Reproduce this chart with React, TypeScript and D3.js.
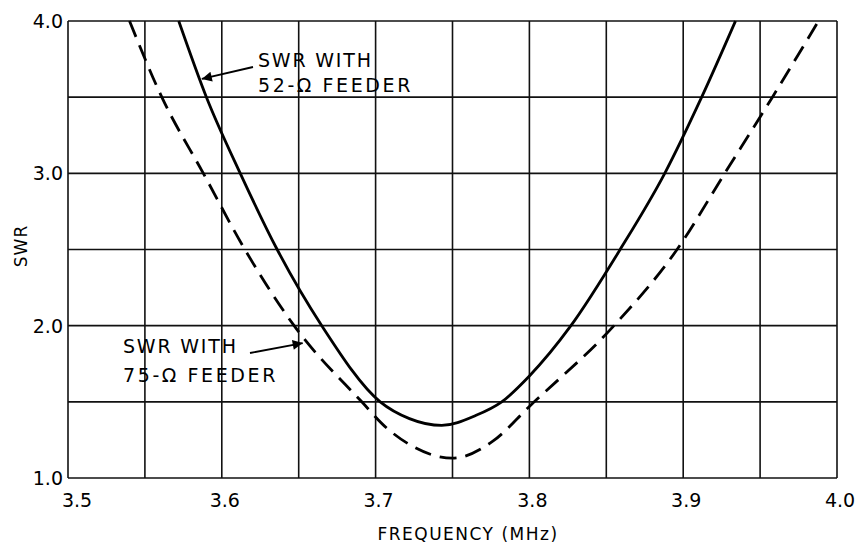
import React, { useEffect, useRef } from 'react';
import * as d3 from 'd3';

// SWR vs frequency
const freq52 = [3.572, 3.59, 3.612, 3.636, 3.665, 3.703, 3.722, 3.743, 3.765, 3.782, 3.8, 3.827, 3.859, 3.888, 3.912, 3.934];
const swr52 = [4.0, 3.5, 3.0, 2.5, 2.0, 1.5, 1.39, 1.345, 1.41, 1.5, 1.67, 2.0, 2.5, 3.0, 3.5, 4.0];

const freq75 = [3.54, 3.561, 3.588, 3.615, 3.647, 3.691, 3.707, 3.722, 3.75, 3.776, 3.8, 3.855, 3.896, 3.927, 3.958, 3.988];
const swr75 = [4.0, 3.5, 3.0, 2.5, 2.0, 1.5, 1.33, 1.22, 1.13, 1.24, 1.47, 2.0, 2.5, 3.0, 3.5, 4.0];

const xTicks = [3.5, 3.6, 3.7, 3.8, 3.9, 4.0];
const yTicks = [1.0, 2.0, 3.0, 4.0];
const xGrid = [3.5, 3.55, 3.6, 3.65, 3.7, 3.75, 3.8, 3.85, 3.9, 3.95, 4.0];
const yGrid = [1.0, 1.5, 2.0, 2.5, 3.0, 3.5, 4.0];

const FONT = '"DejaVu Sans", sans-serif';

function App() {
  const svgRef = useRef<SVGSVGElement>(null);

  useEffect(() => {
    const svg = d3.select(svgRef.current);
    svg.selectAll('*').remove();

    const x = d3.scaleLinear().domain([3.5, 4.0]).range([68, 837]);
    const y = d3.scaleLinear().domain([1, 4]).range([478, 21]);

    svg.append('defs').append('marker')
      .attr('id', 'head')
      .attr('viewBox', '0 0 10 10')
      .attr('refX', 10).attr('refY', 5)
      .attr('markerWidth', 18).attr('markerHeight', 10)
      .attr('markerUnits', 'userSpaceOnUse')
      .attr('orient', 'auto')
      .append('path').attr('d', 'M0,0 L10,5 L0,10 Z').attr('fill', '#000');

    // grid
    const grid = svg.append('g').attr('stroke', '#111').attr('stroke-width', 1.6);
    grid.selectAll('.vx').data(xGrid).enter().append('line')
      .attr('x1', d => x(d)).attr('x2', d => x(d))
      .attr('y1', y(1)).attr('y2', y(4));
    grid.selectAll('.hy').data(yGrid).enter().append('line')
      .attr('x1', x(3.5)).attr('x2', x(4.0))
      .attr('y1', d => y(d)).attr('y2', d => y(d));

    // tick labels
    svg.append('g').selectAll('text').data(yTicks).enter().append('text')
      .attr('x', 63).attr('y', d => y(d)).attr('dy', '0.36em')
      .attr('text-anchor', 'end')
      .attr('font-family', FONT).attr('font-size', 19)
      .text(d => d.toFixed(1));

    svg.append('g').selectAll('text').data(xTicks).enter().append('text')
      .attr('x', d => x(d) + (d === 3.5 ? 9 : 3)).attr('y', 507)
      .attr('text-anchor', 'middle')
      .attr('font-family', FONT).attr('font-size', 19)
      .text(d => d.toFixed(1));

    // axis titles
    svg.append('text')
      .attr('transform', 'translate(27,246) rotate(-90)')
      .attr('text-anchor', 'middle')
      .attr('font-family', FONT).attr('font-size', 17).attr('letter-spacing', 1)
      .text('SWR');
    svg.append('text')
      .attr('x', 468).attr('y', 540)
      .attr('text-anchor', 'middle')
      .attr('font-family', FONT).attr('font-size', 17).attr('letter-spacing', 1.5)
      .text('FREQUENCY (MHz)');

    // curves
    const line = d3.line<[number, number]>()
      .x(d => x(d[0])).y(d => y(d[1]))
      .curve(d3.curveMonotoneX);

    svg.append('path')
      .datum(d3.zip(freq52, swr52) as [number, number][])
      .attr('d', line)
      .attr('fill', 'none').attr('stroke', '#000').attr('stroke-width', 2.8);

    svg.append('path')
      .datum(d3.zip(freq75, swr75) as [number, number][])
      .attr('d', line)
      .attr('fill', 'none').attr('stroke', '#000').attr('stroke-width', 2.8)
      .attr('stroke-dasharray', '17,9');

    // annotations
    const note = svg.append('g')
      .attr('font-family', FONT).attr('font-size', 19).attr('letter-spacing', 1.8);
    note.append('text').attr('x', 258).attr('y', 67).text('SWR WITH');
    note.append('text').attr('x', 258).attr('y', 92).attr('letter-spacing', 2.6).text('52-Ω FEEDER');
    note.append('text').attr('x', 123).attr('y', 353).text('SWR WITH');
    note.append('text').attr('x', 123).attr('y', 382).attr('letter-spacing', 2.6).text('75-Ω FEEDER');

    svg.append('line')
      .attr('x1', 253).attr('y1', 67)
      .attr('x2', x(3.587)).attr('y2', y(3.62))
      .attr('stroke', '#000').attr('stroke-width', 1.8)
      .attr('marker-end', 'url(#head)');
    svg.append('line')
      .attr('x1', 250).attr('y1', 353)
      .attr('x2', x(3.6526)).attr('y2', y(1.886))
      .attr('stroke', '#000').attr('stroke-width', 1.8)
      .attr('marker-end', 'url(#head)');
  }, []);

  return (
    <svg ref={svgRef} width={856} height={546}
      style={{ position: 'absolute', left: 0, top: 0, background: '#fff' }} />
  );
}

export default App;
